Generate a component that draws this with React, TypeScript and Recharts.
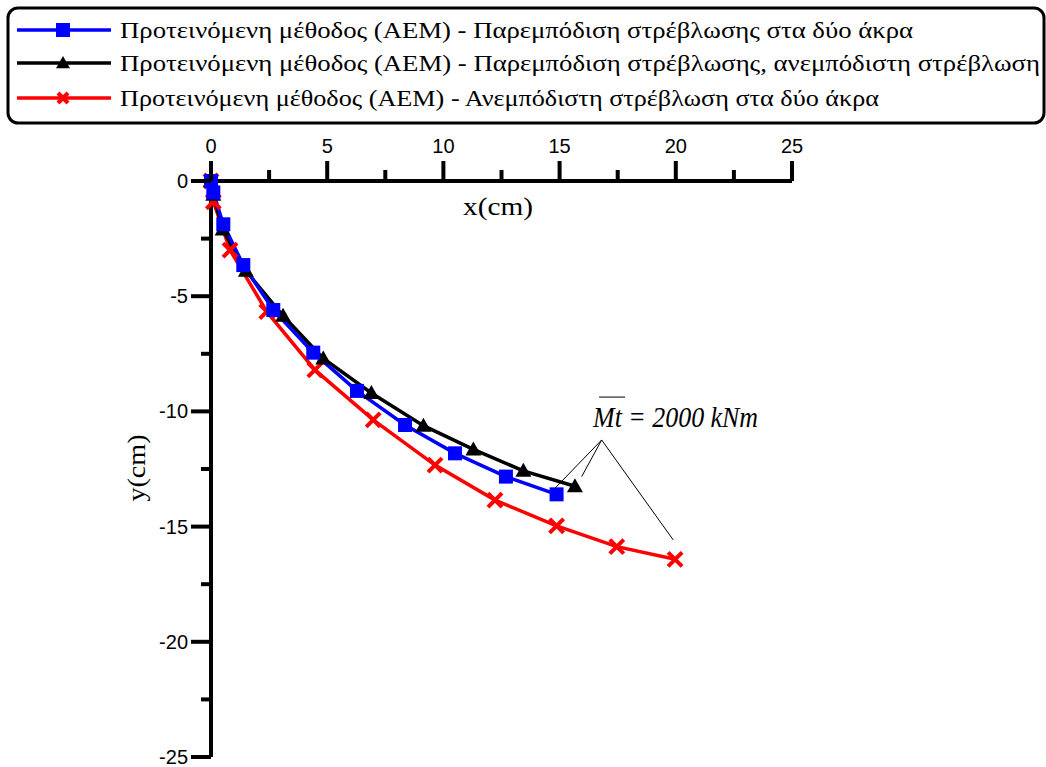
import React from 'react';
import { LineChart, Line, XAxis, YAxis, ReferenceLine, ReferenceDot } from 'recharts';

// deflection curves (cm)
const blueX = [0, 0.1, 0.53, 1.39, 2.68, 4.4, 6.28, 8.35, 10.5, 12.69, 14.87];
const blueY = [0, -0.5, -1.88, -3.65, -5.6, -7.45, -9.11, -10.59, -11.82, -12.83, -13.6];

const blackX = [0, 0.1, 0.5, 1.5, 3.1, 4.83, 6.9, 9.14, 11.29, 13.44, 15.66];
const blackY = [0, -0.6, -2.1, -3.9, -5.85, -7.7, -9.2, -10.62, -11.65, -12.58, -13.25];

const redX = [0, 0.1, 0.82, 2.4, 4.47, 6.98, 9.64, 12.22, 14.87, 17.46, 19.97];
const redY = [0, -0.9, -3.0, -5.67, -8.2, -10.37, -12.33, -13.85, -14.97, -15.87, -16.42];

const seriesNames = [
  'Προτεινόμενη μέθοδος (AEM) - Παρεμπόδιση στρέβλωσης στα δύο άκρα',
  'Προτεινόμενη μέθοδος (AEM) - Παρεμπόδιση στρέβλωσης, ανεμπόδιστη στρέβλωση',
  'Προτεινόμενη μέθοδος (AEM) - Ανεμπόδιστη στρέβλωση στα δύο άκρα',
];

const xTicks = [0, 2.5, 5, 7.5, 10, 12.5, 15, 17.5, 20, 22.5, 25];
const yTicks = [0, -2.5, -5, -7.5, -10, -12.5, -15, -17.5, -20, -22.5, -25];

// annotation: apex of the leader lines and their ends
const apex = { x: 16.81, y: -11.24 };
const leaderEnds = [
  { x: 14.73, y: -13.41 },
  { x: 15.95, y: -12.83 },
  { x: 19.89, y: -15.58 },
];

const toPoints = (xs: number[], ys: number[]) => xs.map((x, i) => ({ x, y: ys[i] }));

const bluePts = toPoints(blueX, blueY);
const blackPts = toPoints(blackX, blackY);
const redPts = toPoints(redX, redY);

const SANS = '"Liberation Sans", Arial, sans-serif';
const SERIF = '"Liberation Serif", "Times New Roman", serif';

const Square = ({ cx, cy, size = 14 }: any) =>
  cx == null ? null : <rect x={cx - size / 2} y={cy - size / 2} width={size} height={size} fill="#0000ff" />;

const Triangle = ({ cx, cy, s = 8 }: any) =>
  cx == null ? null : (
    <polygon points={`${cx},${cy - s} ${cx - s},${cy + s * 0.75} ${cx + s},${cy + s * 0.75}`} fill="#000" />
  );

const Cross = ({ cx, cy, s = 7 }: any) =>
  cx == null ? null : (
    <g stroke="#ff0000" strokeWidth={4}>
      <line x1={cx - s} y1={cy - s} x2={cx + s} y2={cy + s} />
      <line x1={cx - s} y1={cy + s} x2={cx + s} y2={cy - s} />
    </g>
  );

const XTick = ({ x, y, payload }: any) => {
  const major = payload.value % 5 === 0;
  return (
    <g>
      <line x1={x} x2={x} y1={y} y2={y - (major ? 20 : 11)} stroke="#000" strokeWidth={4} />
      {major && (
        <text x={x} y={y - 28} textAnchor="middle" fontFamily={SANS} fontSize={20} fill="#000">
          {payload.value}
        </text>
      )}
    </g>
  );
};

const YTick = ({ x, y, payload }: any) => {
  const major = payload.value % 5 === 0;
  return (
    <g>
      <line x1={x} x2={x - (major ? 20 : 10)} y1={y} y2={y} stroke="#000" strokeWidth={4} />
      {major && (
        <text x={x - 23} y={y + 7} textAnchor="end" fontFamily={SANS} fontSize={20} fill="#000">
          {payload.value}
        </text>
      )}
    </g>
  );
};

const MtLabel = ({ cx, cy }: any) => (
  <g>
    <line x1={cx + 6} x2={cx + 32} y1={cy - 30} y2={cy - 30} stroke="#000" strokeWidth={1} />
    <text x={cx} y={cy} fontFamily={SERIF} fontStyle="italic" fontSize={29} fill="#000" textLength={165} lengthAdjust="spacingAndGlyphs">
      Mt = 2000 kNm
    </text>
  </g>
);

const legendMarkers = [
  { color: '#0000ff', marker: <Square cx={63} cy={0} size={14} /> },
  { color: '#000', marker: <Triangle cx={63} cy={0} s={7} /> },
  { color: '#ff0000', marker: <Cross cx={63} cy={0} s={5} /> },
];
const legendRows = [30, 63, 98];
const legendWidths = [793, 920, 759];

export default function App() {
  return (
    <div style={{ position: 'absolute', left: 0, top: 0, width: 1046, height: 767, background: '#fff' }}>
      <LineChart width={1046} height={767} margin={{ top: 151, left: 151, right: 254, bottom: 10 }}>
        <XAxis
          type="number"
          dataKey="x"
          orientation="top"
          domain={[0, 25]}
          ticks={xTicks}
          interval={0}
          height={30}
          tickSize={0}
          tickMargin={0}
          tickLine={false}
          tick={<XTick />}
          axisLine={{ stroke: '#000', strokeWidth: 4 }}
        />
        <YAxis
          type="number"
          dataKey="y"
          domain={[-25, 0]}
          ticks={yTicks}
          interval={0}
          width={60}
          tickSize={0}
          tickMargin={0}
          tickLine={false}
          tick={<YTick />}
          axisLine={{ stroke: '#000', strokeWidth: 4 }}
        />
        <Line data={redPts} dataKey="y" stroke="#ff0000" strokeWidth={3.5} dot={<Cross />} isAnimationActive={false} />
        <Line data={blackPts} dataKey="y" stroke="#000" strokeWidth={3.5} dot={<Triangle />} isAnimationActive={false} />
        <Line data={bluePts} dataKey="y" stroke="#0000ff" strokeWidth={3.5} dot={<Square />} isAnimationActive={false} />
        {leaderEnds.map((e, i) => (
          <ReferenceLine key={i} segment={[apex, e]} stroke="#000" strokeWidth={1} ifOverflow="visible" />
        ))}
        <ReferenceDot x={16.44} y={-10.68} r={0} shape={<MtLabel />} ifOverflow="visible" />
      </LineChart>
      <svg width={1046} height={767} style={{ position: 'absolute', left: 0, top: 0, pointerEvents: 'none' }}>
        <rect x={8} y={8} width={1036} height={115} rx={10} ry={10} fill="none" stroke="#000" strokeWidth={3} />
        {seriesNames.map((name, i) => (
          <g key={i} transform={`translate(0,${legendRows[i]})`}>
            <line x1={17} x2={111} y1={0} y2={0} stroke={legendMarkers[i].color} strokeWidth={3.5} />
            {legendMarkers[i].marker}
            <text x={120} y={8} fontFamily={SERIF} fontSize={24} fill="#000" textLength={legendWidths[i]} lengthAdjust="spacingAndGlyphs">
              {name}
            </text>
          </g>
        ))}
        <text x={498} y={215} textAnchor="middle" fontFamily={SERIF} fontSize={26} fill="#000" textLength={70} lengthAdjust="spacingAndGlyphs">
          x(cm)
        </text>
        <text transform="translate(145,468) rotate(-90)" textAnchor="middle" fontFamily={SERIF} fontSize={26} fill="#000" textLength={67} lengthAdjust="spacingAndGlyphs">
          y(cm)
        </text>
      </svg>
    </div>
  );
}
